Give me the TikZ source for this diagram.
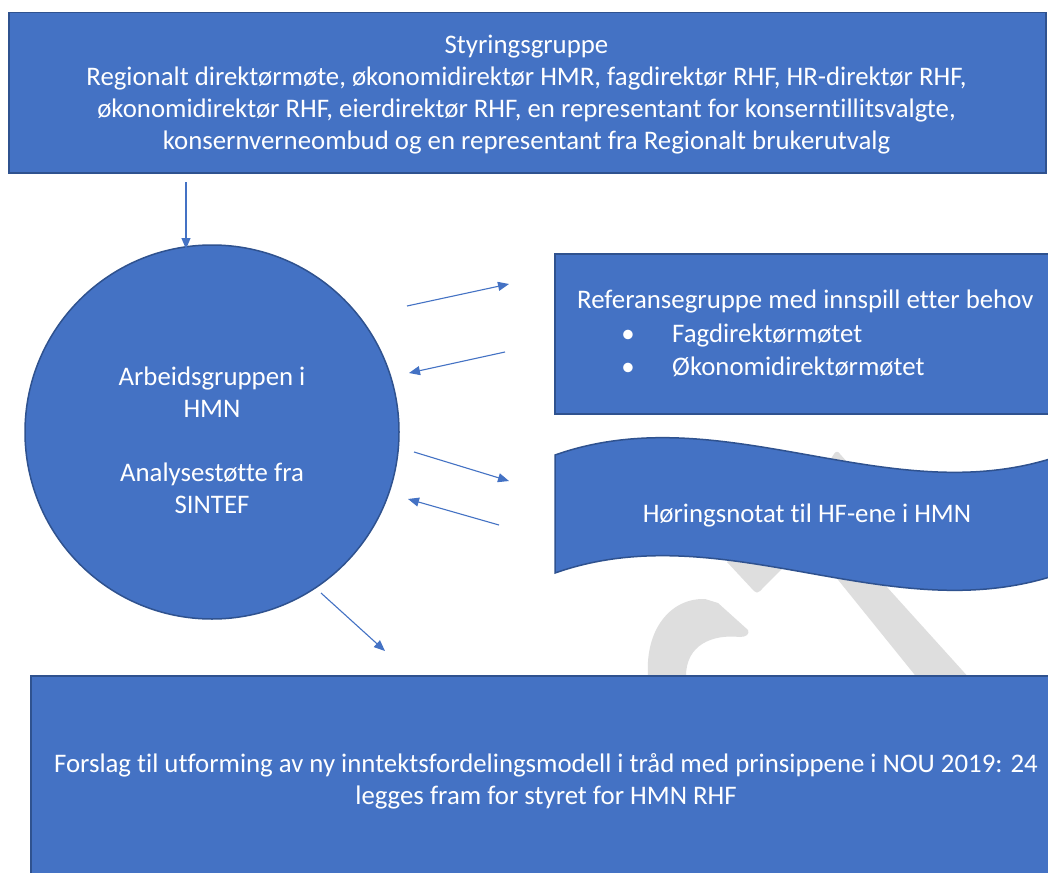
\documentclass[tikz,border=0pt]{standalone}
\usepackage{fontspec}
\setmainfont{Carlito}[Ligatures={NoCommon}]
\usetikzlibrary{arrows.meta}
\definecolor{bfill}{HTML}{4472C4}
\definecolor{bline}{HTML}{2F528F}
\definecolor{wm}{HTML}{DEDEDE}
\tikzset{
  box/.style={draw=bline, line width=1.5pt, fill=bfill, inner sep=0pt},
  lbl/.style={text=white, font=\fontsize{26.8}{32}\selectfont, align=center, inner sep=0pt},
  lbll/.style={text=white, font=\fontsize{26.8}{32}\selectfont, inner sep=0pt, anchor=base west},
  arr/.style={draw=bfill, line width=1.1pt, -{Triangle[length=11pt,width=9pt]}},
  wmark/.style={fill=wm, draw=none}
}
\begin{document}
\begin{tikzpicture}[x=1pt,y=-1pt]
\useasboundingbox (0,0) rectangle (1048,872);
\clip (0,0) rectangle (1048,872);
\fill[white] (0,0) rectangle (1048,872);
% watermark fragments
\path[wmark] (648,690) -- (648,676) .. controls (645,630) and (670,598) .. (705,599) -- (718,603) -- (748,630) .. controls (750,634) and (746,637) .. (740,637) .. controls (712,634) and (686,645) .. (686,676) -- (686,690) -- cycle;
\path[wmark] (727,562) -- (754,591) .. controls (756,593) and (758,593) .. (760,591) -- (857,493) -- (827,462) -- cycle;
\path[wmark] (822,472) -- (834,454) .. controls (836,451) and (838,451) .. (840,454) -- (856,472) -- cycle;
\path[wmark] (818,555) -- (858,555) -- (980,690) -- (927,690) -- cycle;
% shapes
\node[box, minimum width=1037pt, minimum height=160pt, anchor=north west] (sty) at (8,12) {};
\node[lbl] (stytxt) at (526.5,95) {Styringsgruppe\\Regionalt direktørmøte, økonomidirektør HMR, fagdirektør RHF, HR-direktør RHF,\\økonomidirektør RHF, eierdirektør RHF, en representant for konserntillitsvalgte,\\konsernverneombud og en representant fra Regionalt brukerutvalg};
\node[box, circle, minimum size=374pt] (arb) at (212,432) {};
\node[lbl] (arbtxt) at (212,440.5) {Arbeidsgruppen i\\HMN\\[32pt]Analysestøtte fra\\SINTEF};
\node[box, minimum width=520pt, minimum height=160pt, anchor=north west] (ref) at (554,253) {};
\node[lbll] (reft) at (577,308) {Referansegruppe med innspill etter behov};
\node[text=white, font=\fontsize{26.8}{32}\selectfont, inner sep=0pt, anchor=base] (b1) at (628,342) {•};
\node[lbll] (r1) at (672,342) {Fagdirektørmøtet};
\node[text=white, font=\fontsize{26.8}{32}\selectfont, inner sep=0pt, anchor=base] (b2) at (628,375) {•};
\node[lbll] (r2) at (672,375) {Økonomidirektørmøtet};
\draw[fill=bfill, draw=bline, line width=1.5pt] (555,455) .. controls (725,395) and (892,515) .. (1062,455) -- (1062,573) .. controls (892,633) and (725,513) .. (555,573) -- cycle;
\node[lbl] (hor) at (807,515) {Høringsnotat til HF-ene i HMN};
\node[box, minimum width=1040pt, minimum height=220pt, anchor=north west] (fors) at (30,675) {};
\node[lbl] (forstxt) at (546,781) {Forslag til utforming av ny inntektsfordelingsmodell i tråd med prinsippene i NOU 2019: 24\\legges fram for styret for HMN RHF};
% connectors
\coordinate (a0s) at (186,182); \coordinate (a0e) at (186,249);
\coordinate (a1s) at (407,306); \coordinate (a1e) at (509,284);
\coordinate (a2s) at (505,352); \coordinate (a2e) at (409,373);
\coordinate (a3s) at (414,452); \coordinate (a3e) at (509,481);
\coordinate (a4s) at (499,525); \coordinate (a4e) at (408,499);
\coordinate (a5s) at (321,593); \coordinate (a5e) at (385,651);
\draw[arr] (a0s) -- (a0e);
\draw[arr] (a1s) -- (a1e);
\draw[arr] (a2s) -- (a2e);
\draw[arr] (a3s) -- (a3e);
\draw[arr] (a4s) -- (a4e);
\draw[arr] (a5s) -- (a5e);
\end{tikzpicture}
\end{document}
